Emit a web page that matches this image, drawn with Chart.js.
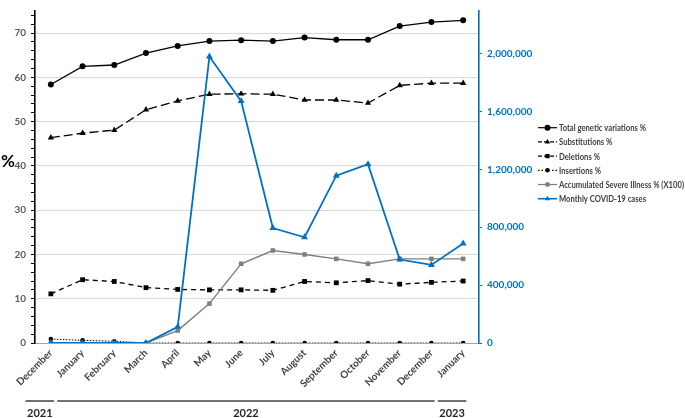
<!DOCTYPE html>
<html>
<head>
<meta charset="utf-8">
<title>Genetic variations and COVID-19 cases</title>
<script src="https://cdn.jsdelivr.net/npm/chart.js@4.4.0/dist/chart.umd.min.js"></script>
<style>
  html, body { margin: 0; padding: 0; background: #fff; }
  #wrap { width: 685px; height: 418px; }
</style>
</head>
<body>
<div id="wrap"><canvas id="chart" width="685" height="418"></canvas></div>
<script>
// months Dec 2021 .. Jan 2023
const months = ['December', 'January', 'February', 'March', 'April', 'May', 'June',
  'July', 'August', 'September', 'October', 'November', 'December', 'January'];
const yearLabels = ['2021', '2022', '2023'];
const yearSpans = [[0, 0], [1, 12], [13, 13]];

// percent series (left axis)
const totalVariations = [58.4, 62.5, 62.8, 65.5, 67.1, 68.2, 68.4, 68.2, 69.0, 68.5, 68.5, 71.6, 72.5, 72.9];
const substitutions = [46.4, 47.4, 48.1, 52.7, 54.7, 56.2, 56.3, 56.2, 54.9, 54.9, 54.2, 58.2, 58.7, 58.7];
const deletions = [11.1, 14.3, 13.9, 12.5, 12.1, 12.0, 12.0, 11.9, 13.9, 13.6, 14.1, 13.3, 13.7, 14.0];
const insertions = [0.9, 0.6, 0.4, 0, 0, 0, 0, 0, 0, 0, 0, 0, 0, 0];
const severeIllness = [0, 0, 0, 0, 2.8, 8.9, 17.9, 20.9, 20.0, 19.0, 17.9, 19.0, 19.0, 19.0];

// cases (right axis)
const monthlyCases = [0, 0, 0, 0, 112000, 1980000, 1672000, 795000, 731000, 1157000, 1236000, 577000, 540000, 688000];

const leftTicks = [0, 10, 20, 30, 40, 50, 60, 70];
const rightTicks = [0, 400000, 800000, 1200000, 1600000, 2000000];

const BLUE = '#0070C0';
const GRAY = '#7F7F7F';
const FONT = 'Lato, "Open Sans", sans-serif';

const seriesStyle = [
  { label: 'Total genetic variations %', data: totalVariations, color: '#000', dash: [], width: 1.3, point: 'circle', radius: 3 },
  { label: 'Substitutions %', data: substitutions, color: '#000', dash: [9, 4], width: 1.3, point: 'triangle', radius: 3.6 },
  { label: 'Deletions %', data: deletions, color: '#000', dash: [5, 4], width: 1.3, point: 'rect', radius: 3.4 },
  { label: 'Insertions %', data: insertions, color: '#000', dash: [1.5, 1.5], width: 1, point: 'circle', radius: 2.3 },
  { label: 'Accumulated Severe Illness % (X100)', data: severeIllness, color: GRAY, dash: [], width: 1.4, point: 'rect', radius: 3.2 },
  { label: 'Monthly COVID-19 cases', data: monthlyCases, color: BLUE, dash: [], width: 1.8, point: 'triangle', radius: 4, axis: 'y1' },
];

const datasets = seriesStyle.map((s, i) => ({
  label: s.label,
  data: s.data,
  yAxisID: s.axis || 'y',
  borderColor: s.color,
  backgroundColor: s.color,
  borderWidth: s.width,
  borderDash: s.dash,
  pointStyle: s.point,
  pointRadius: s.radius,
  pointBorderWidth: 0,
  pointBackgroundColor: s.color,
  tension: 0,
  order: s.axis ? 0 : 6 - i,
}));

// extra drawing: % title, year brackets, legend
const extras = {
  id: 'extras',
  afterDraw(chart) {
    const ctx = chart.ctx;
    const x = chart.scales.x;
    const step = x.getPixelForValue(1) - x.getPixelForValue(0);

    ctx.save();
    ctx.fillStyle = '#000';
    ctx.font = 'bold 17px ' + FONT;
    ctx.textAlign = 'center';
    ctx.textBaseline = 'middle';
    ctx.fillText('%', 8, 162);

    // year groups under the month labels
    ctx.strokeStyle = '#404040';
    ctx.lineWidth = 1.5;
    ctx.font = 'bold 11px ' + FONT;
    ctx.fillStyle = '#262626';
    yearSpans.forEach((span, i) => {
      const a = x.getPixelForValue(span[0]) - 0.8 * step;
      const b = x.getPixelForValue(span[1]) + 0.1 * step;
      ctx.beginPath();
      ctx.moveTo(a, 401);
      ctx.lineTo(b, 401);
      ctx.stroke();
      ctx.fillText(yearLabels[i], (a + b) / 2, 413);
    });

    // legend, text squeezed a little so the longest label fits like the original
    ctx.textAlign = 'left';
    ctx.font = 'bold 9px ' + FONT;
    const longest = Math.max(...seriesStyle.map(s => ctx.measureText(s.label).width));
    const squeeze = Math.min(1, 125 / longest);
    seriesStyle.forEach((s, i) => {
      const y = 127.7 + i * 14.2;
      ctx.strokeStyle = s.color;
      ctx.fillStyle = s.color;
      ctx.lineWidth = s.axis ? 1.6 : 1.2;
      ctx.setLineDash(s.dash.length ? [Math.min(s.dash[0], 4), 2] : []);
      ctx.beginPath();
      ctx.moveTo(538, y);
      ctx.lineTo(557, y);
      ctx.stroke();
      ctx.setLineDash([]);
      Chart.helpers.drawPoint(ctx, { pointStyle: s.point, radius: Math.min(s.radius, 3), rotation: 0, borderWidth: 0 }, 547.5, y);
      ctx.fillStyle = '#404040';
      const w = ctx.measureText(s.label).width * squeeze;
      ctx.fillText(s.label, 559, y + 0.5, w);
    });
    ctx.restore();
  }
};

new Chart(document.getElementById('chart'), {
  type: 'line',
  data: { labels: months, datasets: datasets },
  plugins: [extras],
  options: {
    responsive: false,
    animation: false,
    devicePixelRatio: 1,
    layout: { padding: { top: 1, left: 0, right: 148, bottom: 0 } },
    plugins: { legend: { display: false }, tooltip: { enabled: false } },
    scales: {
      x: {
        type: 'category',
        offset: true,
        grid: { display: false, drawTicks: false },
        border: { color: '#A6A6A6', width: 1 },
        ticks: { minRotation: 45, maxRotation: 45, autoSkip: false, padding: 4,
          color: '#404040', font: { family: FONT, size: 10, weight: 'bold' } },
        afterFit(scale) { scale.height = 75; },
      },
      y: {
        position: 'left',
        min: 0,
        max: 75,
        afterBuildTicks(scale) {
          const t = [];
          for (let v = 0; v <= 74; v += 2) t.push({ value: v });
          scale.ticks = t;
        },
        grid: {
          color: c => (c.tick && c.tick.value > 0 && leftTicks.includes(c.tick.value)) ? '#D9D9D9' : 'rgba(0,0,0,0)',
          tickColor: '#000',
          tickLength: 4,
          lineWidth: 1,
        },
        border: { color: '#000', width: 1.6 },
        ticks: {
          autoSkip: false,
          padding: 5,
          color: '#595959',
          font: { family: FONT, size: 10, weight: 'bold' },
          callback: v => leftTicks.includes(v) ? String(v) : '',
        },
        afterFit(scale) { scale.width = 35; },
      },
      y1: {
        position: 'right',
        min: 0,
        max: 2295000,
        afterBuildTicks(scale) { scale.ticks = rightTicks.map(v => ({ value: v })); },
        grid: { drawOnChartArea: false, tickColor: BLUE, tickLength: 3 },
        border: { color: BLUE, width: 1.6 },
        ticks: {
          padding: 5,
          color: BLUE,
          font: { family: FONT, size: 10, weight: 'bold' },
          callback: v => v.toLocaleString('en-US'),
        },
        afterFit(scale) { scale.width = 58; },
      },
    },
  },
});
</script>
</body>
</html>
